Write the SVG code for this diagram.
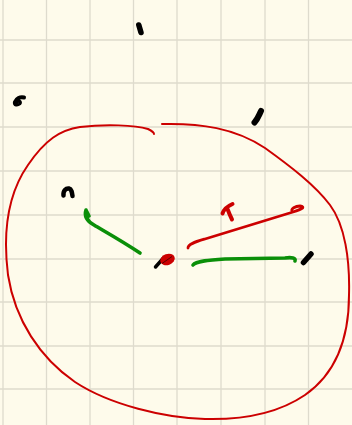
<svg xmlns="http://www.w3.org/2000/svg" width="352" height="425" viewBox="0 0 352 425">
<style>
.grid{stroke:#dedbcd;stroke-width:1.3;fill:none}
.red{stroke:#cc0000;fill:none;stroke-linecap:round;stroke-linejoin:round}
.green{stroke:#0a8f08;fill:none;stroke-width:3.6;stroke-linecap:round;stroke-linejoin:round}
.ink{stroke:#000;fill:none;stroke-linecap:round;stroke-linejoin:round}
</style>
<rect width="352" height="425" fill="#fefbeb"/>
<g id="grid" class="grid">
<path d="M3,0V425M46.5,0V425M90,0V425M133.5,0V425M177,0V425M221,0V425M265,0V425M308.5,0V425"/>
<path d="M0,40H352M0,83H352M0,127H352M0,171H352M0,215H352M0,259H352M0,302H352M0,346H352M0,389H352"/>
</g>
<g id="outline">
<path class="red" stroke-width="2" d="M162,124 C200,123 235,128 265,148 C290,166 315,185 330,205 C345,225 350,260 349,295 C349,335 338,372 305,395 C280,412 245,420 205,419 C165,418 110,405 75,382 C40,358 15,320 8,275 C3,235 7,195 28,165 C45,140 60,130 80,127 C105,124 135,125 148,129 C152,131 154,133 154,134"/>
</g>
<g id="connectors">
<path class="green" d="M140,253 C122,241 104,231 94,225 C87,221 84,216 86,210 L89,216"/>
<path class="green" d="M193,265 C196,261 210,260 225,259 L285,258 C292,257 296,258 295,261"/>
<path class="red" stroke-width="2.8" d="M188,248 C188,244 195,242 205,239 L293,212 C302,209 306,207 300,206 C295,206 291,209 292,211"/>
</g>
<g id="marks">
<path class="ink" stroke-width="5.5" d="M138.8,25 L141,32.5"/>
<path class="ink" stroke-width="4" d="M24,97.5 C20,96.5 16.5,98.5 15,102 C14,105 17.5,105 19.5,103.5 C21,102 18.5,100.5 16.5,102"/>
<path class="ink" stroke-width="6" d="M261,111 C259,115 258,118.5 254.5,122.5"/>
<path class="ink" stroke-width="4.5" d="M63.5,195.5 C63,190.5 66,188 69,188.5 C71.5,189 72,192.5 72.5,196"/>
<path class="ink" stroke-width="5.5" d="M303.5,262.5 L311,254"/>
<path class="red" stroke-width="4" d="M222.5,213.5 C224,209 229,205.5 232.5,204 M227.5,209 C229,213 230.5,216.5 232,219.5"/>
</g>
<g id="center">
<path class="ink" stroke-width="3.5" d="M155.5,267 L163.5,258"/>
<ellipse cx="167.5" cy="259.5" rx="7.5" ry="5.5" transform="rotate(-20 167.5 259.5)" fill="#cc0000"/>
<path stroke="#5a0000" stroke-width="1" fill="none" d="M162,263.5 L172,256.5"/>
</g>
</svg>
